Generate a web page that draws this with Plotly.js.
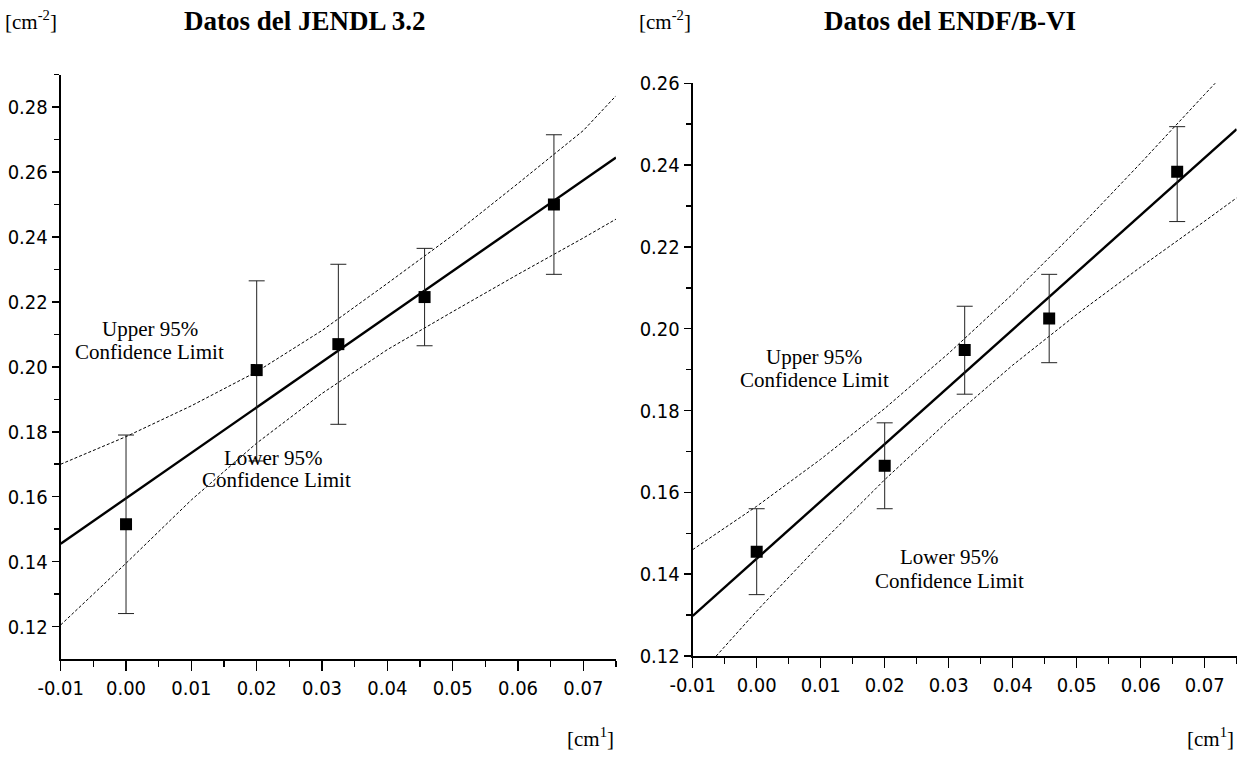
<!DOCTYPE html>
<html>
<head>
<meta charset="utf-8">
<script src="https://cdn.plot.ly/plotly-3.0.1.min.js"></script>
<style>
html,body{margin:0;padding:0;background:#fff;}
#chart{width:1239px;height:757px;}
</style>
</head>
<body>
<div id="chart"></div>
<script>
// ---------- data: JENDL 3.2 (left) ----------
var jendlX      = [0.0, 0.02, 0.0325, 0.0457, 0.0655];
var jendlY      = [0.1515, 0.199, 0.207, 0.2215, 0.250];
var jendlErrHi  = [0.179, 0.2265, 0.2316, 0.2365, 0.2715];
var jendlErrLo  = [0.124, 0.171, 0.1823, 0.2065, 0.2285];
var jendlFitX   = [-0.01, 0.075];
var jendlFitY   = [0.1455, 0.2645];
var bandX       = [-0.01, 0.0, 0.01, 0.02, 0.03, 0.04, 0.05, 0.06, 0.07, 0.075];
var jendlUpper  = [0.170, 0.1785, 0.188, 0.1985, 0.2112, 0.2257, 0.2405, 0.2565, 0.2728, 0.2835];
var jendlLower  = [0.1205, 0.1395, 0.159, 0.1765, 0.1918, 0.2053, 0.2170, 0.2285, 0.2397, 0.2455];

// ---------- data: ENDF/B-VI (right) ----------
var endfX       = [0.0, 0.02, 0.0325, 0.0457, 0.0657];
var endfY       = [0.1455, 0.1665, 0.1948, 0.2025, 0.2384];
var endfErrHi   = [0.156, 0.177, 0.2055, 0.2133, 0.2494];
var endfErrLo   = [0.135, 0.156, 0.184, 0.1917, 0.2262];
var endfFitX    = [-0.01, 0.075];
var endfFitY    = [0.1298, 0.2488];
var endfUpper   = [0.146, 0.1566, 0.1681, 0.1805, 0.194, 0.2085, 0.2241, 0.2405, 0.2573, 0.2656];
var endfLower   = [0.1136, 0.131, 0.1475, 0.1631, 0.1776, 0.1911, 0.2035, 0.2151, 0.2263, 0.232];

// ---------- tick labels ----------
var xTickVals   = [-0.01, 0.0, 0.01, 0.02, 0.03, 0.04, 0.05, 0.06, 0.07];
var xTickText   = ['-0.01','0.00','0.01','0.02','0.03','0.04','0.05','0.06','0.07'];
var xMinorVals  = [-0.005, 0.005, 0.015, 0.025, 0.035, 0.045, 0.055, 0.065, 0.075];
var yLeftVals   = [0.12, 0.14, 0.16, 0.18, 0.20, 0.22, 0.24, 0.26, 0.28];
var yLeftText   = ['0.12','0.14','0.16','0.18','0.20','0.22','0.24','0.26','0.28'];
var yLeftMinor  = [0.13, 0.15, 0.17, 0.19, 0.21, 0.23, 0.25, 0.27, 0.29];
var yRightVals  = [0.12, 0.14, 0.16, 0.18, 0.20, 0.22, 0.24, 0.26];
var yRightText  = ['0.12','0.14','0.16','0.18','0.20','0.22','0.24','0.26'];
var yRightMinor = [0.13, 0.15, 0.17, 0.19, 0.21, 0.23, 0.25];

function diff(a, b){ return a.map(function(v,i){ return v - b[i]; }); }

var SERIF = 'Liberation Serif, Times New Roman, serif';
var NARROW = 'Liberation Sans Narrow, Arial Narrow, DejaVu Sans Condensed, sans-serif';

function points(x, y, hi, lo, xa, ya){
  return {
    x: x, y: y, xaxis: xa, yaxis: ya, type: 'scatter', mode: 'markers',
    marker: {symbol: 'square', size: 12, color: '#000'},
    error_y: {type: 'data', symmetric: false, array: diff(hi, y), arrayminus: diff(y, lo),
              color: '#222', thickness: 1, width: 8},
    showlegend: false, hoverinfo: 'skip'
  };
}
function line(x, y, xa, ya, w, dash){
  return {x: x, y: y, xaxis: xa, yaxis: ya, type: 'scatter', mode: 'lines',
          line: {color: '#000', width: w, dash: dash}, showlegend: false, hoverinfo: 'skip'};
}

var traces = [
  line(bandX, jendlUpper, 'x', 'y', 1, '3px,2px'),
  line(bandX, jendlLower, 'x', 'y', 1, '3px,2px'),
  line(jendlFitX, jendlFitY, 'x', 'y', 2.4, 'solid'),
  points(jendlX, jendlY, jendlErrHi, jendlErrLo, 'x', 'y'),
  line(bandX, endfUpper, 'x2', 'y2', 1, '3px,2px'),
  line(bandX, endfLower, 'x2', 'y2', 1, '3px,2px'),
  line(endfFitX, endfFitY, 'x2', 'y2', 2.4, 'solid'),
  points(endfX, endfY, endfErrHi, endfErrLo, 'x2', 'y2')
];

function xAxis(domain, anchor){
  return {
    domain: domain, anchor: anchor, range: [-0.01, 0.075],
    showgrid: false, zeroline: false, showline: true, linecolor: '#000', linewidth: 2,
    ticks: 'outside', ticklen: 10, tickwidth: 1.5, tickcolor: '#000',
    tickmode: 'array', tickvals: xTickVals, ticktext: xTickText,
    tickfont: {family: NARROW, size: 20, color: '#000'},
    minor: {tickvals: xMinorVals, ticks: 'outside', ticklen: 6, tickwidth: 1.5, tickcolor: '#000', showgrid: false},
    fixedrange: true
  };
}
function yAxis(domain, anchor, range, vals, text, minor){
  return {
    domain: domain, anchor: anchor, range: range,
    showgrid: false, zeroline: false, showline: true, linecolor: '#000', linewidth: 2,
    ticks: 'outside', ticklen: 7, tickwidth: 1.5, tickcolor: '#000',
    tickmode: 'array', tickvals: vals, ticktext: text,
    tickfont: {family: NARROW, size: 20, color: '#000'},
    minor: {tickvals: minor, ticks: 'outside', ticklen: 5, tickwidth: 1.5, tickcolor: '#000', showgrid: false},
    fixedrange: true
  };
}

function note(text, x, y, xref, yref, size){
  return {text: text, x: x, y: y, xref: xref, yref: yref, showarrow: false,
          xanchor: 'center', yanchor: 'middle',
          font: {family: SERIF, size: size, color: '#000'}, align: 'center'};
}

var layout = {
  width: 1239, height: 757,
  margin: {l: 0, r: 0, t: 0, b: 0},
  paper_bgcolor: '#fff', plot_bgcolor: '#fff',
  xaxis: xAxis([0.04899, 0.49717], 'y'),
  yaxis: yAxis([0.12946, 0.90132], 'x', [0.11, 0.29], yLeftVals, yLeftText, yLeftMinor),
  xaxis2: xAxis([0.55908, 0.99814], 'y2'),
  yaxis2: yAxis([0.13342, 0.88996], 'x2', [0.12, 0.26], yRightVals, yRightText, yRightMinor),
  annotations: [
    note('<b>Datos del JENDL 3.2</b>', 305/1239, 1 - 21/757, 'paper', 'paper', 27),
    note('<b>Datos del ENDF/B-VI</b>', 950/1239, 1 - 21/757, 'paper', 'paper', 27),
    note('[cm<sup>-2</sup>]', 31/1239, 1 - 20/757, 'paper', 'paper', 21),
    note('[cm<sup>-2</sup>]', 665/1239, 1 - 20/757, 'paper', 'paper', 21),
    note('[cm<sup>1</sup>]', 590/1239, 1 - 737/757, 'paper', 'paper', 21),
    note('[cm<sup>1</sup>]', 1210/1239, 1 - 737/757, 'paper', 'paper', 21),
    note('Upper 95%', 0.0036, 0.2118, 'x', 'y', 21),
    note('Confidence Limit', 0.0036, 0.2047, 'x', 'y', 21),
    note('Lower 95%', 0.0226, 0.1718, 'x', 'y', 21),
    note('Confidence Limit', 0.0230, 0.1650, 'x', 'y', 21),
    note('Upper 95%', 0.009, 0.1931, 'x2', 'y2', 21),
    note('Confidence Limit', 0.009, 0.1875, 'x2', 'y2', 21),
    note('Lower 95%', 0.0302, 0.1442, 'x2', 'y2', 21),
    note('Confidence Limit', 0.0302, 0.1383, 'x2', 'y2', 21)
  ]
};

Plotly.newPlot('chart', traces, layout, {displayModeBar: false, staticPlot: true});
</script>
</body>
</html>
